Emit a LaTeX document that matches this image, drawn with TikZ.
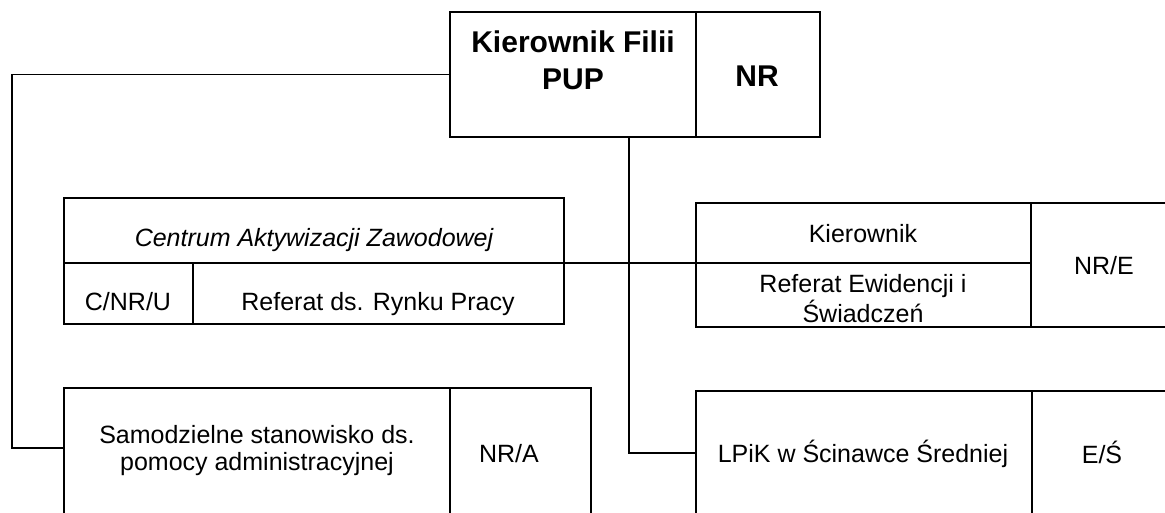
\documentclass[tikz,border=0pt]{standalone}
\usepackage{fontspec}
\setmainfont{Liberation Sans}
\begin{document}
\begin{tikzpicture}[x=1pt,y=-1pt,
  cell/.style={draw, line width=1.8pt, rectangle, inner sep=0pt, outer sep=0pt, anchor=north west},
  conn/.style={line width=1.8pt},
  txt/.style={anchor=base, inner sep=0pt, font=\fontsize{25}{30}\selectfont},
  itxt/.style={txt, font=\fontsize{25}{30}\selectfont\itshape},
  btxt/.style={txt, font=\fontsize{30}{36}\selectfont\bfseries}]
\useasboundingbox (0,0) rectangle (1165,513);
\clip (0,0) rectangle (1165,513);
\fill[white] (0,0) rectangle (1165,513);
% boxes
\node[cell, minimum width=246pt, minimum height=125pt] (kf) at (450,12) {};
\node[cell, minimum width=124pt, minimum height=125pt] (nr) at (696,12) {};
\node[cell, minimum width=500pt, minimum height=65pt] (caz) at (64,198) {};
\node[cell, minimum width=129pt, minimum height=61pt] (cnru) at (64,263) {};
\node[cell, minimum width=371pt, minimum height=61pt] (rrp) at (193,263) {};
\node[cell, minimum width=335pt, minimum height=60pt] (kier) at (696,203) {};
\node[cell, minimum width=335pt, minimum height=64pt] (rew) at (696,263) {};
\node[cell, minimum width=145pt, minimum height=124pt] (nre) at (1031,203) {};
\node[cell, minimum width=386pt, minimum height=140pt] (sam) at (64,388) {};
\node[cell, minimum width=141pt, minimum height=140pt] (nra) at (450,388) {};
\node[cell, minimum width=336pt, minimum height=140pt] (lpik) at (696,391) {};
\node[cell, minimum width=145pt, minimum height=140pt] (es) at (1032,391) {};
% connectors
\coordinate (lc) at (12,448);
\draw[conn] (kf.west) -| (lc) -- (lc -| sam.west);
\coordinate (vt) at (629,137);
\coordinate (vb) at (629,453);
\draw[conn] (vt) -- (vb) -- (vb -| lpik.west);
\draw[conn] (rrp.north east) -- (rew.north west);
% texts
\node[btxt] (t1) at (573,53) {Kierownik Filii};
\node[btxt] (t2) at (573,90) {PUP};
\node[btxt] (t3) at (757,87) {NR};
\node[itxt] (t4) at (314,247) {Centrum Aktywizacji Zawodowej};
\node[txt] (t5) at (128,310) {C/NR/U};
\node[txt] (t6) at (378,310) {Referat ds. Rynku Pracy};
\node[txt] (t7) at (863,243) {Kierownik};
\node[txt] (t8) at (863,292) {Referat Ewidencji i};
\node[txt] (t9) at (863,322) {Świadczeń};
\node[txt] (t10) at (1104,275) {NR/E};
\node[txt] (t11) at (257,443) {Samodzielne stanowisko ds.};
\node[txt] (t12) at (257,470) {pomocy administracyjnej};
\node[txt] (t13) at (509,462) {NR/A};
\node[txt] (t14) at (863,462) {LPiK w Ścinawce Średniej};
\node[txt] (t15) at (1102,463) {E/Ś};
\end{tikzpicture}
\end{document}
